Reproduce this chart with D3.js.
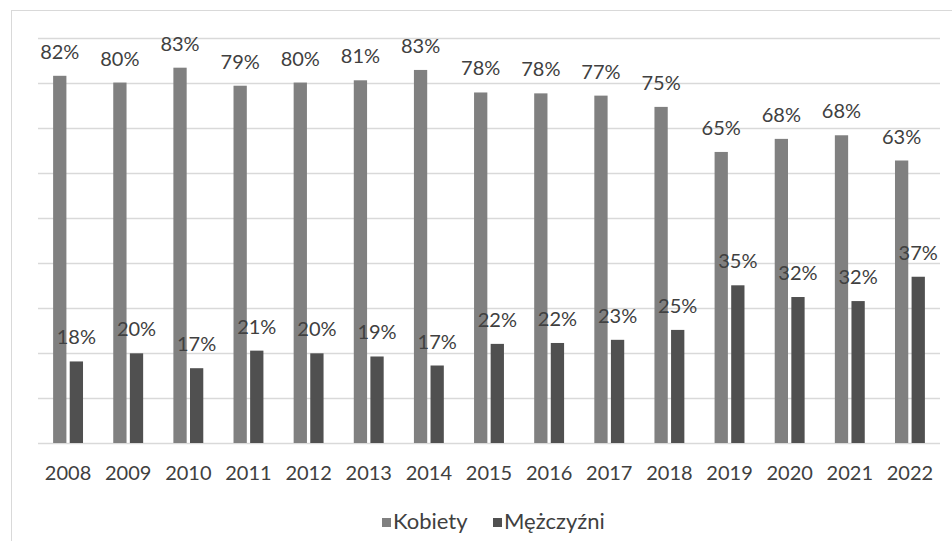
<!DOCTYPE html>
<html>
<head>
<meta charset="utf-8">
<script src="https://cdn.jsdelivr.net/npm/d3@7"></script>
<style>
  body { margin: 0; background: #fff; }
  text { font-family: Lato, "Open Sans", sans-serif; fill: #404040; }
</style>
</head>
<body>
<script>
var years = ["2008", "2009", "2010", "2011", "2012", "2013", "2014", "2015",
  "2016", "2017", "2018", "2019", "2020", "2021", "2022"];
var seriesNames = ["Kobiety", "Mężczyźni"];
var kobiety = [81.5, 80.0, 83.3, 79.3, 80.0, 80.5, 82.8, 77.8, 77.6, 77.1, 74.6, 64.6, 67.5, 68.3, 62.7];
var mezczyzni = [18.1, 19.9, 16.6, 20.5, 19.9, 19.2, 17.2, 22.0, 22.2, 22.9, 25.1, 35.0, 32.4, 31.5, 36.9];
var gridTicks = [0, 10, 20, 30, 40, 50, 60, 70, 80, 90];
var colors = ["#808080", "#505050"];

var width = 952, height = 541;
var svg = d3.select("body").append("svg")
  .attr("width", width)
  .attr("height", height);

// chart frame (only left and top edges fall inside the picture)
svg.append("rect")
  .attr("x", 11.5).attr("y", 10.5)
  .attr("width", 1000).attr("height", 600)
  .attr("fill", "none")
  .attr("stroke", "#d9d9d9");

var x = d3.scaleBand().domain(years).range([38, 940]);
var xs = d3.scaleBand().domain(seriesNames).range([0, x.bandwidth()])
  .paddingInner(0.2).paddingOuter(0.91);
var y = d3.scaleLinear().domain([0, 90]).range([443, 37.5]);

svg.append("g").selectAll("line").data(gridTicks)
  .enter().append("line")
  .attr("x1", 38).attr("x2", 940)
  .attr("y1", d => Math.round(y(d)) + 0.5)
  .attr("y2", d => Math.round(y(d)) + 0.5)
  .attr("stroke", "#d9d9d9")
  .attr("stroke-width", 1.5);

var rows = years.map((yr, i) => ({ year: yr, vals: [kobiety[i], mezczyzni[i]] }));

var groups = svg.append("g").selectAll("g").data(rows)
  .enter().append("g")
  .attr("transform", d => `translate(${x(d.year)},0)`);

groups.selectAll("rect").data(d => d.vals.map((v, j) => ({ s: seriesNames[j], v: v, j: j })))
  .enter().append("rect")
  .attr("x", d => xs(d.s))
  .attr("y", d => y(d.v))
  .attr("width", xs.bandwidth())
  .attr("height", d => y(0) - y(d.v))
  .attr("fill", d => colors[d.j]);

groups.selectAll("text.lbl").data(d => d.vals.map((v, j) => ({ s: seriesNames[j], v: v })))
  .enter().append("text")
  .attr("class", "lbl")
  .attr("x", d => xs(d.s) + xs.bandwidth() / 2)
  .attr("y", d => y(d.v) - 17)
  .attr("text-anchor", "middle")
  .attr("font-size", 20)
  .text(d => Math.round(d.v) + "%");

// category axis
var xAxis = svg.append("g")
  .attr("transform", "translate(0,443)")
  .call(d3.axisBottom(x).tickSize(0).tickPadding(0));
xAxis.select(".domain").remove();
xAxis.selectAll("text")
  .attr("y", 37)
  .attr("dy", 0)
  .attr("font-size", 20)
  .style("font-family", "Lato, sans-serif")
  .style("fill", "#404040");

// legend
var legend = svg.append("g");
var legendX = [382, 493];
seriesNames.forEach((name, i) => {
  legend.append("rect")
    .attr("x", legendX[i]).attr("y", 518)
    .attr("width", 9).attr("height", 9)
    .attr("fill", colors[i]);
  legend.append("text")
    .attr("x", legendX[i] + 11).attr("y", 529)
    .attr("font-size", 22)
    .text(name);
});
</script>
</body>
</html>
